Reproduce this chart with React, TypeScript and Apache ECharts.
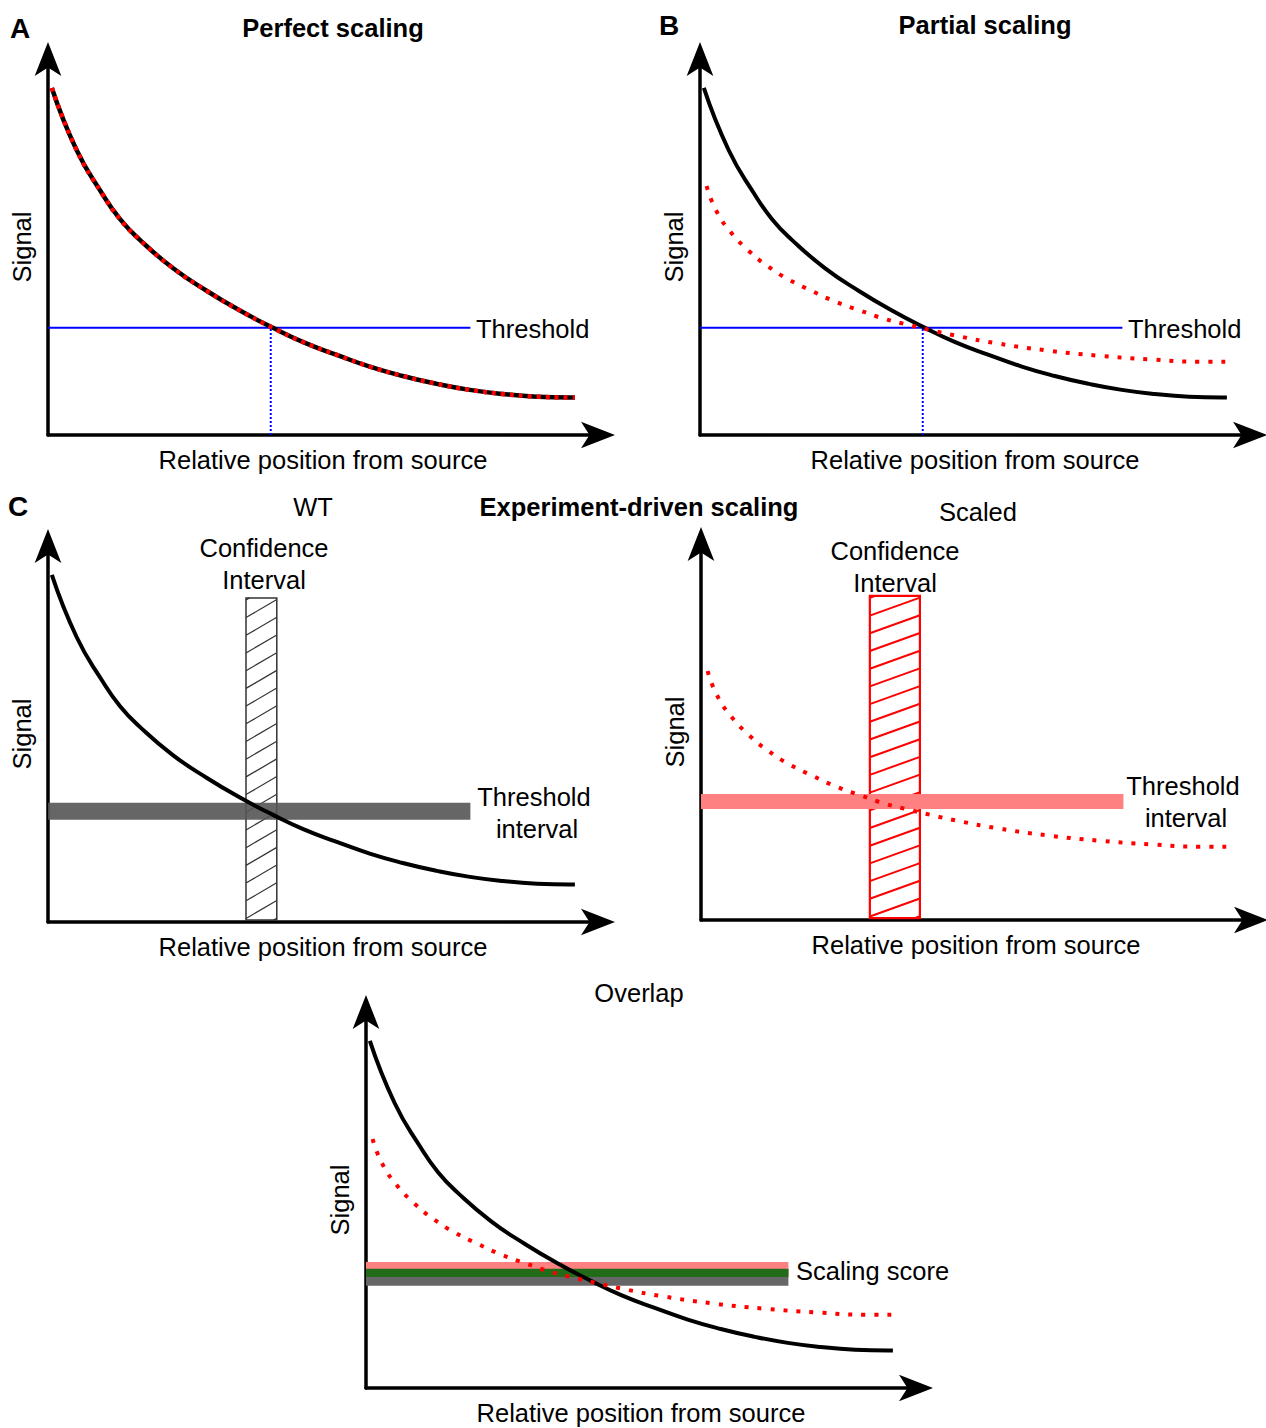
import React, { useEffect, useRef } from 'react';
import * as echarts from 'echarts';

// Curve samples (x: relative position 0-10, y: signal 0-10)
const wtX = [0.07, 0.52, 0.98, 1.31, 1.67, 2.27, 2.89, 3.49, 4.09, 4.64, 5.25, 5.85, 6.45, 7.07, 7.67, 8.27, 8.89, 9.49, 9.58];
const wtY = [9.23, 7.58, 6.43, 5.74, 5.19, 4.44, 3.83, 3.31, 2.85, 2.47, 2.13, 1.82, 1.57, 1.36, 1.2, 1.09, 1.02, 1.0, 1.0];
const scaledX = [0.12, 0.29, 0.55, 0.87, 1.23, 1.62, 2.05, 2.47, 2.91, 3.35, 3.79, 4.25, 4.69, 5.39, 6.3, 7.24, 8.18, 9.09, 9.55];
const scaledY = [6.62, 5.98, 5.41, 4.92, 4.49, 4.13, 3.82, 3.54, 3.31, 3.09, 2.93, 2.77, 2.63, 2.44, 2.25, 2.11, 2.01, 1.95, 1.95];

const thresholdValue = 2.85;
const thresholdEnd = 7.68;
const thresholdCross = 4.05;

const wtInterval = [2.72, 3.17];
const scaledInterval = [2.95, 3.35];
const overlapInterval = [2.95, 3.17];
const bandEnd = 7.68;

const wtCI = [3.6, 4.16];
const scaledCI = [3.07, 3.98];
const ciRange = [0.05, 8.62];

const FONT = "'Liberation Sans', Arial, sans-serif";
const FS = 25.5;

const grids = [
  { left: 48, top: 59, width: 550, height: 376 },
  { left: 700, top: 59, width: 550, height: 376 },
  { left: 48, top: 546, width: 550, height: 376 },
  { left: 701, top: 544, width: 550, height: 376 },
  { left: 366, top: 1012, width: 550, height: 376 },
];

const zip = (xs: number[], ys: number[]) => xs.map((x, i) => [x, ys[i]]);

function curve(idx: number, xs: number[], ys: number[], color: string, type: any, z: number, width = 4) {
  return {
    type: 'line',
    xAxisIndex: idx,
    yAxisIndex: idx,
    data: zip(xs, ys),
    smooth: 0.5,
    showSymbol: false,
    symbol: 'none',
    z,
    lineStyle: { color, width, type, cap: 'butt' },
    silent: true,
  };
}

function band(idx: number, x0: number, x1: number, yr: number[], color: string, z: number, opacity = 1) {
  return {
    type: 'custom',
    xAxisIndex: idx,
    yAxisIndex: idx,
    z,
    silent: true,
    data: [[x0, x1, yr[0], yr[1]]],
    encode: { x: [0, 1], y: [2, 3] },
    renderItem: (params: any, api: any) => {
      const p0 = api.coord([api.value(0), api.value(3)]);
      const p1 = api.coord([api.value(1), api.value(2)]);
      return {
        type: 'rect',
        shape: { x: p0[0], y: p0[1], width: p1[0] - p0[0], height: p1[1] - p0[1] },
        style: { fill: color, opacity },
      };
    },
  };
}

function hatch(idx: number, xr: number[], yr: number[], color: string, lineW: number, borderW: number, z: number) {
  return {
    type: 'custom',
    xAxisIndex: idx,
    yAxisIndex: idx,
    z,
    silent: true,
    data: [[xr[0], xr[1], yr[0], yr[1]]],
    encode: { x: [0, 1], y: [2, 3] },
    renderItem: (params: any, api: any) => {
      const p0 = api.coord([api.value(0), api.value(3)]);
      const p1 = api.coord([api.value(1), api.value(2)]);
      const left = p0[0], top = p0[1], right = p1[0], bottom = p1[1];
      const w = right - left;
      const rise = 18;
      const step = 17.7;
      const children: any[] = [];
      for (let yl = top + 2; yl <= bottom + rise; yl += step) {
        const t0 = Math.max(0, (yl - bottom) / rise);
        const t1 = Math.min(1, (yl - top) / rise);
        if (t1 <= t0) continue;
        children.push({
          type: 'line',
          shape: { x1: left + w * t0, y1: yl - rise * t0, x2: left + w * t1, y2: yl - rise * t1 },
          style: { stroke: color, lineWidth: lineW },
        });
      }
      children.push({
        type: 'rect',
        shape: { x: left, y: top, width: w, height: bottom - top },
        style: { fill: 'none', stroke: color, lineWidth: borderW },
      });
      return { type: 'group', children };
    },
  };
}

function text(str: string, x: number, y: number, size: number, bold = false, align = 'center') {
  return {
    type: 'text',
    x,
    y,
    silent: true,
    style: {
      text: str,
      fill: '#000',
      fontSize: size,
      fontWeight: bold ? 'bold' : 'normal',
      fontFamily: FONT,
      align,
      verticalAlign: 'middle',
    },
  };
}

export default function App() {
  const ref = useRef<HTMLDivElement>(null);
  useEffect(() => {
    if (!ref.current) return;
    const chart = echarts.init(ref.current, undefined, { renderer: 'svg' });
    const axisLine = {
      show: true,
      onZero: false,
      symbol: ['none', 'arrow'],
      symbolSize: [20, 34],
      symbolOffset: [0, 17],
      lineStyle: { color: '#000', width: 3.5 },
    };
    const xAxis = grids.map((_, i) => ({
      gridIndex: i,
      type: 'value',
      min: 0,
      max: 10,
      axisLine,
      axisTick: { show: false },
      axisLabel: { show: false },
      splitLine: { show: false },
      name: 'Relative position from source',
      nameLocation: 'middle',
      nameGap: 12,
      nameTextStyle: { fontSize: FS, color: '#000', fontFamily: FONT },
    }));
    const yAxis = grids.map((_, i) => ({
      gridIndex: i,
      type: 'value',
      min: 0,
      max: 10,
      axisLine,
      axisTick: { show: false },
      axisLabel: { show: false },
      splitLine: { show: false },
      name: 'Signal',
      nameLocation: 'middle',
      nameRotate: 90,
      nameGap: 13,
      nameTextStyle: { fontSize: FS, color: '#000', fontFamily: FONT },
    }));

    const thrLine = (idx: number) => ({
      type: 'line', xAxisIndex: idx, yAxisIndex: idx, showSymbol: false, symbol: 'none', z: 2, silent: true,
      data: [[0, thresholdValue], [thresholdEnd, thresholdValue]],
      lineStyle: { color: '#0000ff', width: 2 },
    });
    const thrDrop = (idx: number) => ({
      type: 'line', xAxisIndex: idx, yAxisIndex: idx, showSymbol: false, symbol: 'none', z: 2, silent: true,
      data: [[thresholdCross, 0], [thresholdCross, thresholdValue]],
      lineStyle: { color: '#0000ff', width: 2, type: [2, 2] },
    });

    const series: any[] = [
      // A
      thrLine(0), thrDrop(0),
      curve(0, wtX, wtY, '#000', 'solid', 3, 4.5),
      curve(0, wtX, wtY, '#ff0000', [4, 5], 4, 4.5),
      // B
      thrLine(1), thrDrop(1),
      curve(1, wtX, wtY, '#000', 'solid', 3),
      curve(1, scaledX, scaledY, '#ff0000', [4, 9], 4, 4),
      // C WT
      hatch(2, wtCI, ciRange, '#333333', 1.2, 1.5, 1),
      band(2, 0, bandEnd, wtInterval, '#555555', 2, 0.9),
      curve(2, wtX, wtY, '#000', 'solid', 3),
      // C Scaled
      hatch(3, scaledCI, ciRange, '#ff0000', 2, 2.2, 1),
      band(3, 0, bandEnd, scaledInterval, '#ff8080', 2),
      curve(3, scaledX, scaledY, '#ff0000', [4, 9], 4, 4),
      // Overlap
      band(4, 0, bandEnd, wtInterval, '#666666', 1),
      band(4, 0, bandEnd, scaledInterval, '#ff8080', 2),
      band(4, 0, bandEnd, overlapInterval, '#216b19', 3),
      curve(4, wtX, wtY, '#000', 'solid', 4),
      curve(4, scaledX, scaledY, '#ff0000', [4, 9], 5, 4),
    ];

    const graphic = [
      text('A', 20, 28, 28, true),
      text('B', 669, 25, 28, true),
      text('C', 18, 506, 28, true),
      text('Perfect scaling', 333, 28, FS, true),
      text('Partial scaling', 985, 25, FS, true),
      text('Experiment-driven scaling', 639, 507, FS, true),
      text('WT', 313, 507, FS),
      text('Scaled', 978, 512, FS),
      text('Overlap', 639, 993, FS),
      text('Threshold', 476, 329, FS, false, 'left'),
      text('Threshold', 1128, 329, FS, false, 'left'),
      text('Threshold', 534, 797, FS),
      text('interval', 537, 829, FS),
      text('Threshold', 1183, 786, FS),
      text('interval', 1186, 818, FS),
      text('Confidence', 264, 548, FS),
      text('Interval', 264, 580, FS),
      text('Confidence', 895, 551, FS),
      text('Interval', 895, 583, FS),
      text('Scaling score', 796, 1271, FS, false, 'left'),
    ];

    chart.setOption({
      animation: false,
      backgroundColor: '#fff',
      grid: grids.map((g) => ({ ...g, containLabel: false })),
      xAxis,
      yAxis,
      series,
      graphic,
    });
    return () => chart.dispose();
  }, []);
  return (
    <div
      ref={ref}
      style={{ position: 'absolute', left: 0, top: 0, width: 1266, height: 1428, background: '#fff' }}
    />
  );
}
